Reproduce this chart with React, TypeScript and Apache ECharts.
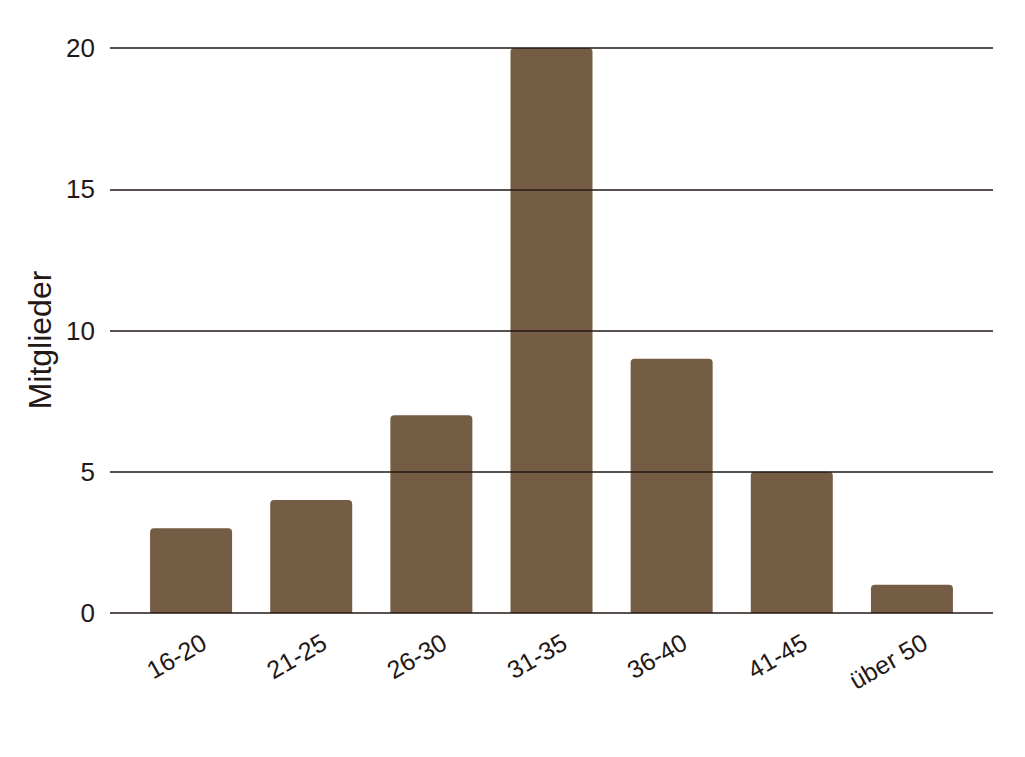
import React, { useEffect, useRef } from "react";
import * as echarts from "echarts";

const categories = ["16-20", "21-25", "26-30", "31-35", "36-40", "41-45", "über 50"];
const members = [3, 4, 7, 20, 9, 5, 1];
const yTicks = [0, 5, 10, 15, 20];
const yTitle = "Mitglieder";

const FONT = "'Liberation Sans', Arial, sans-serif";
const TEXT = "#231815";

export default function App() {
  const ref = useRef<HTMLDivElement>(null);
  useEffect(() => {
    const chart = echarts.init(ref.current!, undefined, { renderer: "svg" });
    chart.setOption({
      animation: false,
      backgroundColor: "#ffffff",
      grid: [
        { left: 110, right: 32, top: 48, bottom: 144 },
        { left: 131, right: 53, top: 48, bottom: 144 },
        { left: 144, right: 40, top: 48, bottom: 144 },
      ],
      graphic: [
        {
          type: "text",
          x: 40,
          y: 340,
          rotation: Math.PI / 2,
          style: {
            text: yTitle,
            fontSize: 32,
            fontFamily: FONT,
            fill: TEXT,
            align: "center",
            verticalAlign: "middle",
          },
        },
      ],
      xAxis: [
        { type: "value", gridIndex: 0, show: false, min: 0, max: 1 },
        {
          type: "category",
          gridIndex: 1,
          data: categories,
          axisLine: { show: false },
          axisTick: { show: false },
          axisLabel: { show: false },
        },
        {
          type: "category",
          gridIndex: 2,
          data: categories,
          axisLine: { show: false },
          axisTick: { show: false },
          axisLabel: {
            rotate: 30,
            margin: 27,
            fontSize: 25,
            fontFamily: FONT,
            color: TEXT,
          },
        },
      ],
      yAxis: [
        {
          type: "value",
          gridIndex: 0,
          min: yTicks[0],
          max: yTicks[yTicks.length - 1],
          interval: 5,
          axisLine: { show: false },
          axisTick: { show: false },
          axisLabel: { fontSize: 26, fontFamily: FONT, color: TEXT, margin: 15 },
          splitLine: { lineStyle: { color: TEXT, width: 1.5 } },
          z: 5,
        },
        {
          type: "value",
          gridIndex: 1,
          min: yTicks[0],
          max: yTicks[yTicks.length - 1],
          interval: 5,
          show: false,
          splitLine: { show: false },
        },
        {
          type: "value",
          gridIndex: 2,
          min: yTicks[0],
          max: yTicks[yTicks.length - 1],
          interval: 5,
          show: false,
          splitLine: { show: false },
        },
      ],
      series: [
        {
          type: "bar",
          xAxisIndex: 1,
          yAxisIndex: 1,
          data: members,
          barWidth: 82,
          itemStyle: { color: "#745c45", borderRadius: [4, 4, 0, 0] },
          z: 1,
        },
      ],
    });
    return () => chart.dispose();
  }, []);
  return (
    <div
      ref={ref}
      style={{ position: "fixed", left: 0, top: 0, width: 1025, height: 757 }}
    />
  );
}
